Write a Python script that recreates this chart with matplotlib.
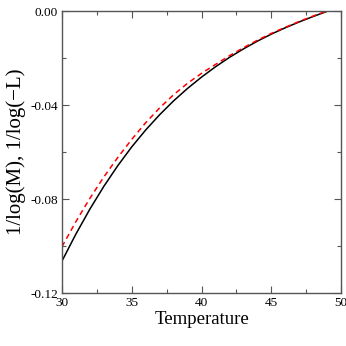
import matplotlib
matplotlib.use("Agg")
import matplotlib.pyplot as plt
from matplotlib.ticker import MultipleLocator, FormatStrFormatter

# temperature grid (one point per degree)
temperature = [30, 31, 32, 33, 34, 35, 36, 37, 38, 39,
               40, 41, 42, 43, 44, 45, 46, 47, 48, 49]

# 1/log(M)  -- black solid
inv_log_m = [-0.1064, -0.0949, -0.0843, -0.0746, -0.0658, -0.0578, -0.0506,
             -0.0441, -0.0382, -0.0329, -0.0281, -0.0237, -0.0197, -0.0161,
             -0.0128, -0.0098, -0.0071, -0.0046, -0.0023, -0.0001]

# 1/log(-L) -- red dashed
inv_log_l = [-0.1003, -0.0896, -0.0797, -0.0706, -0.0623, -0.0546, -0.0475,
             -0.0412, -0.0356, -0.0307, -0.0265, -0.0227, -0.0190, -0.0156,
             -0.0124, -0.0095, -0.0069, -0.0044, -0.0021, 0.0001]

plt.rcParams['font.family'] = ['Liberation Serif', 'DejaVu Serif']

fig = plt.figure(figsize=(3.46, 3.46), dpi=100)
ax = fig.add_axes([0.179, 0.153, 0.807, 0.815])

ax.plot(temperature, inv_log_m, color='black', linewidth=1.1)
ax.plot(temperature, inv_log_l, color='red', linewidth=1.1, dashes=(3.5, 2.5))

ax.set_xlim(30, 50)
ax.set_ylim(-0.12, 0.0)

ax.xaxis.set_major_locator(MultipleLocator(5))
ax.xaxis.set_minor_locator(MultipleLocator(2.5))
ax.yaxis.set_major_locator(MultipleLocator(0.04))
ax.yaxis.set_minor_locator(MultipleLocator(0.02))
ax.yaxis.set_major_formatter(FormatStrFormatter('%.2f'))

ax.tick_params(which='both', direction='in', top=True, right=True,
               color='#555555', labelsize=9.5, pad=3)
ax.tick_params(which='major', length=5, width=0.8)
ax.tick_params(which='minor', length=3, width=0.8)
for s in ax.spines.values():
    s.set_color('#555555')
    s.set_linewidth(1.0)

ax.set_xlabel('Temperature', fontsize=13.5, labelpad=1)
ax.set_ylabel('1/log(M), 1/log(\u2212L)', fontsize=15, labelpad=3)

fig.savefig('out.png', dpi=100)
